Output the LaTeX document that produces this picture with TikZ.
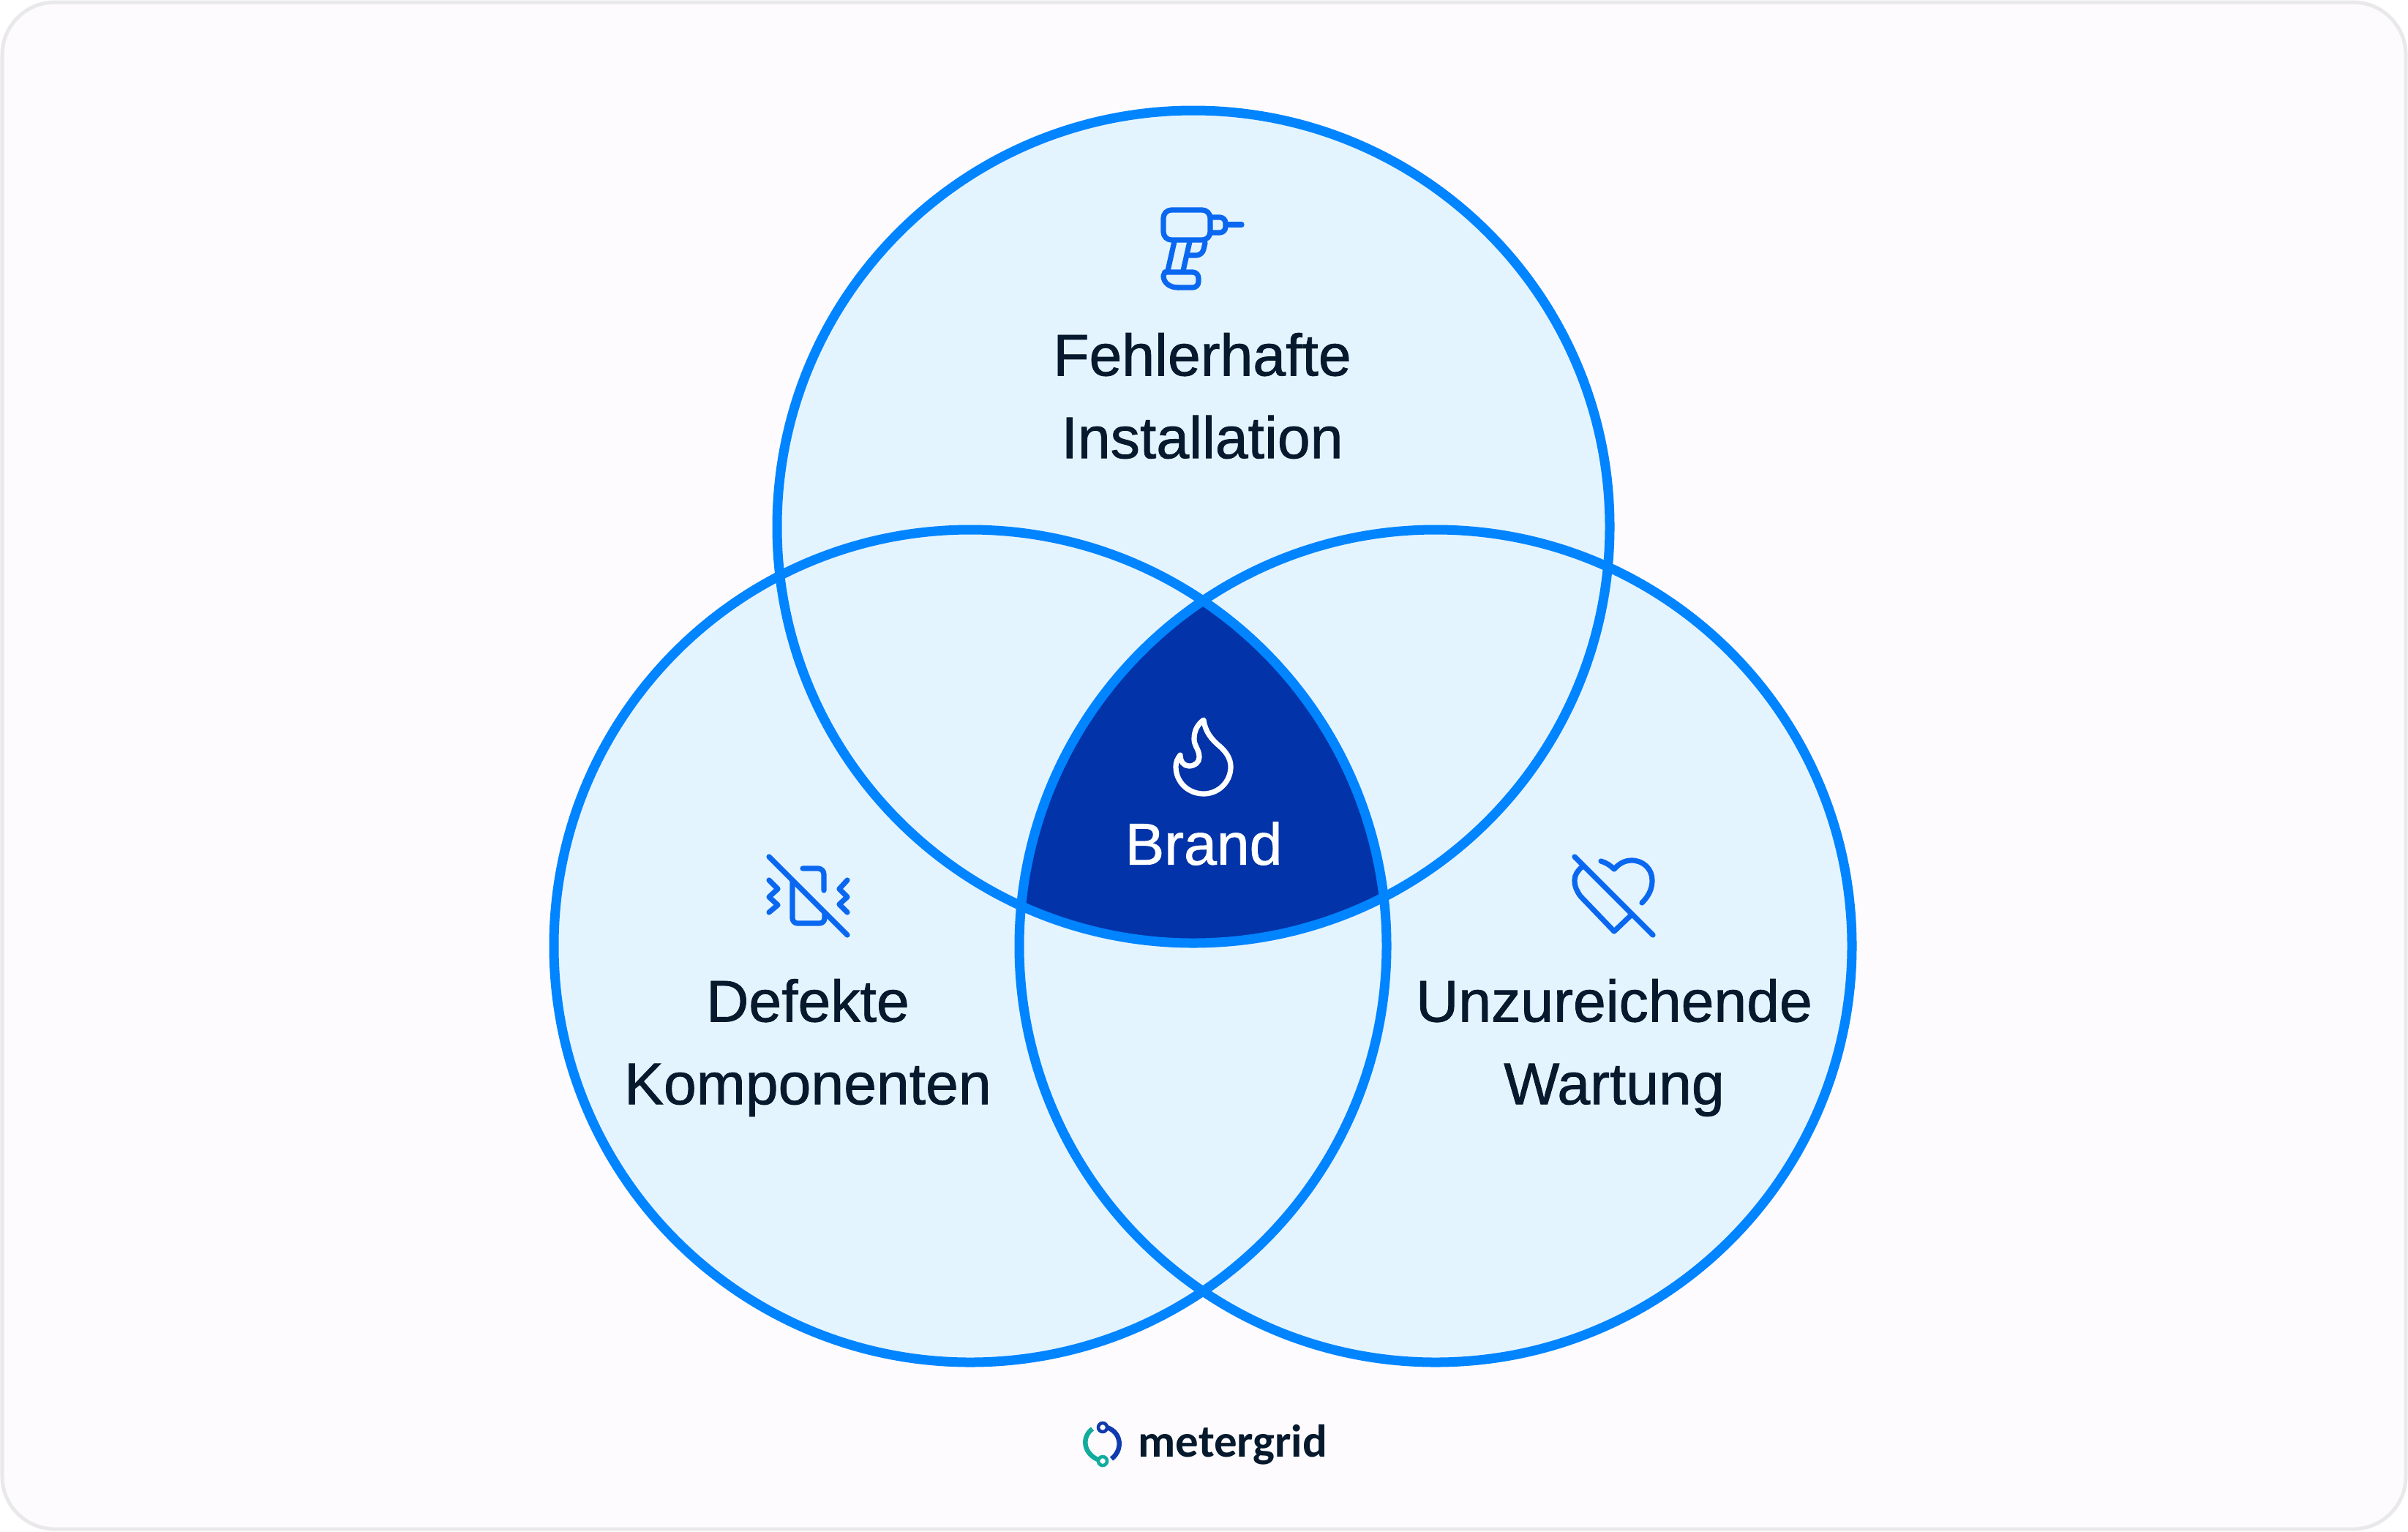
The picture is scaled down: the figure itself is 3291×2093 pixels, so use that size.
\documentclass[tikz,border=0pt]{standalone}
\usepackage{fontspec}
\setmainfont{Liberation Sans}
\newfontfamily\labelfont[FakeBold=1]{Liberation Sans}
\newfontfamily\logofont{Carlito}
\definecolor{panelfill}{HTML}{FDFBFE}
\definecolor{panelline}{HTML}{E9E9EC}
\definecolor{ringfill}{HTML}{E4F4FF}
\definecolor{ringline}{HTML}{0084FF}
\definecolor{corefill}{HTML}{0233A8}
\definecolor{iconblue}{HTML}{0A68F0}
\definecolor{inktext}{HTML}{06192D}
\definecolor{logoteal}{HTML}{12AC9C}
\definecolor{logoblue}{HTML}{0F3BAE}
\tikzset{
  ring/.style={draw=ringline,line width=0.13cm},
  iconstroke/.style={draw=iconblue,line width=0.072cm,line cap=round,line join=round},
  flamestroke/.style={draw=white,line width=0.072cm,line cap=round,line join=round},
  causelabel/.style={text=inktext,align=center,font=\labelfont\fontsize{22.9}{32.1}\selectfont},
}
\begin{document}
\begin{tikzpicture}[x=0.01cm,y=-0.01cm]
\useasboundingbox (0,0) rectangle (3291,2093);

% Drawing panel
\draw [fill=panelfill,draw=panelline,line width=0.05cm,rounded corners=0.72cm] (3,3) rectangle (3288,2090);

% Drawing circle fills
\fill [ringfill] (1631,720) circle (569);
\fill [ringfill] (1326,1293) circle (569);
\fill [ringfill] (1962,1293) circle (569);

% Drawing centre region
\begin{scope}
\clip (1631,720) circle (569);
\clip (1326,1293) circle (569);
\fill [corefill] (1962,1293) circle (569);
\end{scope}

% Drawing circle outlines
\draw [ring] (1631,720) circle (569);
\draw [ring] (1326,1293) circle (569);
\draw [ring] (1962,1293) circle (569);

% Marking labels
\node [causelabel] (install) at (1643,541) {Fehlerhafte\\Installation};
\node [causelabel] (parts) at (1104,1432) {Defekte\\Komponenten};
\node [causelabel] (service) at (2206,1432) {Unzureichende\\Wartung};
\node [causelabel,text=white] (fire) at (1645,1153) {Brand};

% Drawing drill icon
\draw [iconstroke,rounded corners=0.11cm] (1590,287) rectangle (1654,328);
\draw [iconstroke,rounded corners=0.08cm] (1657,297) -- (1675,297) -- (1675,318) -- (1657,318);
\draw [iconstroke] (1678,307) -- (1697,307);
\draw [iconstroke] (1605,330) -- (1596,370);
\draw [iconstroke] (1626,330) -- (1617,370);
\draw [iconstroke,rounded corners=0.08cm] (1647,332) -- (1643,349) -- (1623,349);
\draw [iconstroke,rounded corners=0.08cm] (1592,372) -- (1638,372) -- (1638,393) -- (1610,393);
\draw [iconstroke] (1610,393) .. controls (1598,393) and (1590,386) .. (1590,377) -- (1592,372);

% Drawing broken phone icon
\draw [iconstroke] (1051,1171) -- (1158,1278);
\draw [iconstroke,rounded corners=0.08cm] (1097,1187) -- (1126,1187) -- (1126,1217);
\draw [iconstroke,rounded corners=0.07cm] (1083,1205) -- (1083,1262) -- (1127,1262) -- (1127,1248);
\draw [iconstroke] (1051,1203) -- (1063,1215) -- (1051,1226) -- (1063,1237) -- (1051,1247);
\draw [iconstroke] (1158,1203) -- (1147,1215) -- (1158,1226) -- (1147,1236) -- (1158,1247);

% Drawing crossed heart icon
\draw [iconstroke] (2152,1171) -- (2259,1278);
\draw [iconstroke] (2188,1177) .. controls (2195,1179) and (2201,1183) .. (2206,1188)
  .. controls (2213,1180) and (2221,1176) .. (2230,1176)
  .. controls (2246,1176) and (2258,1188) .. (2258,1203)
  .. controls (2258,1214) and (2254,1224) .. (2244,1234);
\draw [iconstroke] (2162,1185) .. controls (2156,1190) and (2152,1196) .. (2152,1203)
  .. controls (2152,1212) and (2155,1218) .. (2160,1225)
  -- (2206,1273) -- (2228,1252);

% Drawing flame icon
\draw [flamestroke] (1645,984) .. controls (1647,1000) and (1656,1011) .. (1667,1020)
  .. controls (1676,1028) and (1682,1037) .. (1682,1048)
  .. controls (1682,1069) and (1665,1085) .. (1645,1085)
  .. controls (1624,1085) and (1607,1069) .. (1607,1048)
  .. controls (1607,1042) and (1609,1037) .. (1613,1032)
  .. controls (1613,1041) and (1618,1047) .. (1625,1047)
  .. controls (1633,1047) and (1639,1042) .. (1639,1035)
  .. controls (1639,1024) and (1632,1020) .. (1632,1010)
  .. controls (1632,998) and (1637,990) .. (1645,984) -- cycle;

% Drawing logo
\draw [logoteal,line width=0.065cm] (1493,1953) .. controls (1480,1962) and (1478,1984) .. (1500,1995);
\draw [logoteal,line width=0.045cm] (1507,1997) circle (6);
\draw [logoblue,line width=0.065cm] (1513,1951) .. controls (1533,1958) and (1535,1982) .. (1519,1994);
\draw [logoblue,line width=0.045cm] (1507,1951) circle (6);
\node [text=inktext,anchor=base west,inner sep=0pt,font=\logofont\fontsize{17.9}{22}\selectfont\bfseries] (brandname) at (1555,1991) {metergrid};
\end{tikzpicture}
\end{document}
